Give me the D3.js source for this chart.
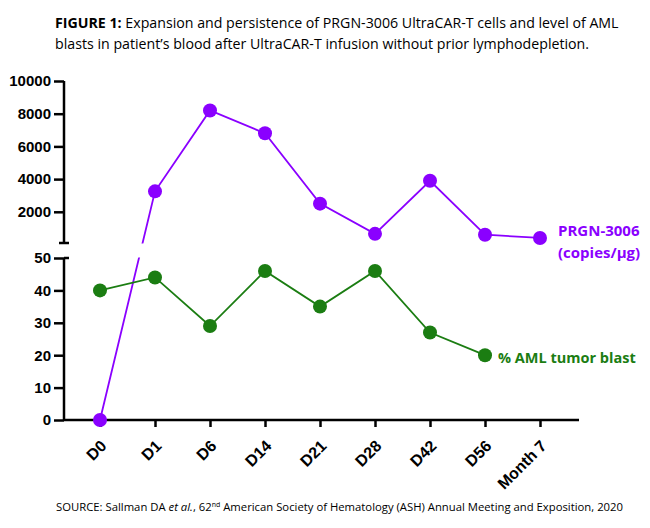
<!DOCTYPE html>
<html lang="en">
<head>
    <meta charset="UTF-8">
    <title>PRGN-3006 UltraCAR-T expansion</title>
    <script src="https://d3js.org/d3.v7.min.js"></script>
    <style>
        body { margin: 0; background: #fff; }
    </style>
</head>
<body>
    <div id="chart"></div>
    <script>
        // Data
        const timepoints = ["D0", "D1", "D6", "D14", "D21", "D28", "D42", "D56", "Month 7"];
        const prgnCopies = [0, 3250, 8200, 6800, 2500, 650, 3900, 600, 400];
        const amlBlast = [40, 44, 29, 46, 35, 46, 27, 20];
        const upperTicks = [2000, 4000, 6000, 8000, 10000];
        const lowerTicks = [0, 10, 20, 30, 40, 50];

        const width = 650, height = 528;
        const purple = "#8a00ff", green = "#1b7d12";
        const axisFont = "'Liberation Sans', Arial, sans-serif";
        const textFont = "'Open Sans', sans-serif";

        const svg = d3.select("#chart").append("svg").attr("width", width).attr("height", height);

        // Scales: two stacked y segments sharing one axis line
        const x = d3.scalePoint().domain(timepoints).range([100, 540]);
        const yUp = d3.scaleLinear().domain([0, 10000]).range([244.5, 81]);
        const yLow = d3.scaleLinear().domain([0, 50]).range([420, 258]);
        const axisLeft = 64, axisRight = 579;

        // Title
        const title = svg.append("text").attr("x", 55).attr("y", 28).attr("font-size", 14.2)
            .style("font-family", textFont);
        title.append("tspan").attr("font-weight", "bold").text("FIGURE 1:");
        title.append("tspan").text(" Expansion and persistence of PRGN-3006 UltraCAR-T cells and level of AML");
        svg.append("text").attr("x", 55).attr("y", 49).attr("font-size", 14.2)
            .style("font-family", textFont)
            .text("blasts in patient\u2019s blood after UltraCAR-T infusion without prior lymphodepletion.");

        // Upper axis segment
        const gUp = svg.append("g").attr("transform", `translate(${axisLeft},0)`)
            .call(d3.axisLeft(yUp).tickValues(upperTicks).tickFormat(d3.format("d"))
                .tickSize(10).tickPadding(3).tickSizeOuter(0));
        gUp.select(".domain").attr("d", `M0,${yUp(10000)}V243`);

        // Lower axis segment
        const gLow = svg.append("g").attr("transform", `translate(${axisLeft},0)`)
            .call(d3.axisLeft(yLow).tickValues(lowerTicks).tickSize(10).tickPadding(3).tickSizeOuter(0));
        gLow.select(".domain").attr("d", `M0,${yLow(50)}V${yLow(0)}`);

        [gUp, gLow].forEach(g => {
            g.attr("font-family", axisFont).attr("font-size", 15).attr("font-weight", "bold");
            g.selectAll(".domain, .tick line").attr("stroke", "#000").attr("stroke-width", 2.5);
            g.selectAll(".tick text").attr("fill", "#000");
        });

        // Break caps
        svg.append("line").attr("x1", axisLeft - 5).attr("x2", axisLeft + 5).attr("y1", 243).attr("y2", 243)
            .attr("stroke", "#000").attr("stroke-width", 2.5);
        svg.append("line").attr("x1", axisLeft).attr("x2", axisLeft + 5).attr("y1", yLow(50)).attr("y2", yLow(50))
            .attr("stroke", "#000").attr("stroke-width", 2.5);

        // X axis
        const gX = svg.append("g").attr("transform", `translate(0,${yLow(0)})`)
            .call(d3.axisBottom(x).tickSize(7).tickSizeOuter(0));
        gX.attr("font-family", axisFont).attr("font-size", 16).attr("font-weight", "bold");
        gX.select(".domain").attr("d", `M${axisLeft},0H${axisRight}`);
        gX.selectAll(".domain, .tick line").attr("stroke", "#000").attr("stroke-width", 2.5);
        gX.selectAll(".tick text")
            .attr("fill", "#000")
            .attr("text-anchor", "end").attr("dy", 0).attr("y", 0)
            .attr("transform", "translate(7,27) rotate(-45)");

        // PRGN-3006 series: D0 sits on the lower segment, the rest on the upper one
        const prgnY = (v, i) => i === 0 ? yLow(v) : yUp(v);
        const prgnPts = prgnCopies.map((v, i) => [x(timepoints[i]), prgnY(v, i)]);
        svg.append("path").attr("d", d3.line()(prgnPts))
            .attr("fill", "none").attr("stroke", purple).attr("stroke-width", 1.8);
        // gap in the line across the axis break
        svg.append("rect").attr("x", axisLeft + 6).attr("y", 243.5).attr("width", 200).attr("height", 14)
            .attr("fill", "#fff");

        // AML blast series
        const amlPts = amlBlast.map((v, i) => [x(timepoints[i]), yLow(v)]);
        svg.append("path").attr("d", d3.line()(amlPts))
            .attr("fill", "none").attr("stroke", green).attr("stroke-width", 1.8);

        svg.selectAll(".aml").data(amlPts).enter().append("circle")
            .attr("cx", d => d[0]).attr("cy", d => d[1]).attr("r", 7).attr("fill", green);
        svg.selectAll(".prgn").data(prgnPts).enter().append("circle")
            .attr("cx", d => d[0]).attr("cy", d => d[1]).attr("r", 7).attr("fill", purple);

        // Series labels
        const lab = svg.append("g").style("font-family", textFont)
            .attr("font-weight", "bold").attr("font-size", 15);
        lab.append("text").attr("x", 558).attr("y", 236).attr("fill", purple).text("PRGN-3006");
        lab.append("text").attr("x", 558).attr("y", 258).attr("fill", purple).text("(copies/\u00b5g)");
        lab.append("text").attr("x", 498).attr("y", 363).attr("fill", green).attr("font-size", 14.5)
            .text("% AML tumor blast");

        // Source
        const src = svg.append("text").attr("x", 56).attr("y", 511).attr("font-size", 11.3)
            .style("font-family", textFont);
        src.append("tspan").text("SOURCE: Sallman DA ");
        src.append("tspan").attr("font-style", "italic").text("et al.");
        src.append("tspan").text(", 62");
        src.append("tspan").attr("font-size", 7).attr("dy", -4).text("nd");
        src.append("tspan").attr("dy", 4).text(" American Society of Hematology (ASH) Annual Meeting and Exposition, 2020");
    </script>
</body>
</html>
